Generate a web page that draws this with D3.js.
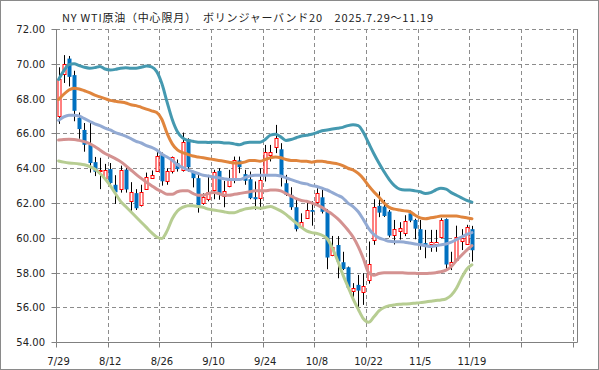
<!DOCTYPE html>
<html><head><meta charset="utf-8">
<script src="https://cdn.jsdelivr.net/npm/d3@7"></script>
<style>html,body{margin:0;padding:0;background:#fff;}svg{display:block;}</style>
</head><body>
<svg id="c" width="599" height="370"></svg>
<script>
const title = "NY WTI原油（中心限月）　ボリンジャーバンド20　2025.7.29～11.19";
const xLabels = ["7/29","8/12","8/26","9/10","9/24","10/8","10/22","11/5","11/19"];
const yTicks = [54,56,58,60,62,64,66,68,70,72];

const open  = [67.0,69.4,70.3,69.35,66.9,66.2,65.35,64.35,63.8,63.45,63.95,63.05,62.78,63.92,62.15,62.57,61.9,62.82,63.45,63.87,
64.8,63.29,63.81,64.29,63.95,65.67,63.81,63.43,61.99,62.22,62.72,63.85,62.43,62.99,63.28,64.45,63.66,63.37,62.34,62.28,
63.66,64.81,65.21,65.09,63.14,62.47,61.76,60.65,61.13,61.6,62.03,62.33,61.51,59.0,59.59,58.6,58.31,56.99,57.3,56.91,
57.58,59.92,61.84,61.8,61.51,60.17,60.4,60.27,61.41,61.03,60.5,59.7,59.63,59.63,60.04,61.08,58.42,58.72,59.8,59.68,60.5];
const high  = [69.8,70.5,70.45,69.6,67.2,66.6,66.6,64.65,64.6,64.25,64.3,63.6,64.15,64.15,63.2,62.8,63.05,63.75,63.87,65.0,
64.9,64.0,64.67,64.5,66.05,65.72,63.85,63.62,62.56,63.62,63.91,64.0,63.27,63.91,64.67,64.67,63.91,63.81,63.24,64.0,
65.34,65.34,66.49,65.44,63.62,62.91,62.2,61.41,62.08,62.1,62.85,62.8,61.65,60.11,60.1,59.2,58.35,57.4,57.87,57.97,
59.79,62.22,62.66,62.18,61.6,61.03,60.9,61.3,61.57,61.1,61.03,60.46,60.46,60.46,61.13,61.12,59.2,60.7,60.5,60.75,60.69];
const low   = [66.55,68.9,68.7,66.7,65.7,64.95,63.75,63.55,62.8,63.4,63.0,61.95,62.6,62.6,61.5,61.6,61.8,62.8,63.4,63.8,
63.0,63.05,63.7,63.81,63.81,63.81,62.9,61.45,61.9,62.1,62.22,62.19,61.76,62.91,63.14,63.72,63.05,62.22,61.61,61.61,
63.24,64.39,64.87,62.95,62.41,61.61,60.37,60.6,61.1,60.7,61.95,61.4,58.2,58.95,57.68,58.15,57.05,56.43,55.95,56.15,
57.37,59.6,61.19,61.2,60.03,59.62,59.9,60.1,60.9,59.92,59.31,58.83,59.2,59.2,59.98,58.22,58.15,58.65,59.3,59.6,58.64];
const close = [69.15,70.0,69.25,67.3,66.25,65.35,64.3,63.8,63.88,63.9,63.15,62.62,63.9,62.78,62.66,61.7,62.62,63.49,63.64,64.73,
63.25,63.85,64.63,63.95,65.53,64.06,63.43,61.85,62.33,62.64,63.76,62.47,62.7,63.33,64.45,64.06,63.28,62.28,62.22,63.33,
64.96,64.96,65.73,63.52,62.47,61.76,60.5,60.93,61.6,61.5,62.56,61.5,58.87,59.46,58.64,58.21,57.14,57.14,56.97,57.24,
58.48,61.8,61.45,61.26,60.13,60.49,60.55,60.97,60.99,60.53,59.67,59.55,59.76,59.76,61.03,58.47,58.6,60.07,60.0,60.65,59.29];

const upper2 = [69.1,69.6,69.95,70.0,69.9,69.8,69.75,69.78,69.85,69.7,69.65,69.68,69.75,69.78,69.75,69.75,69.8,69.87,69.82,69.55,
68.85,67.8,66.8,66.1,65.75,65.6,65.55,65.5,65.5,65.48,65.5,65.5,65.45,65.45,65.4,65.35,65.45,65.5,65.5,65.5,
65.65,65.9,65.95,65.8,65.6,65.65,65.75,65.85,65.9,65.95,66.05,66.15,66.2,66.25,66.3,66.35,66.45,66.5,66.45,66.05,
65.45,64.85,64.3,63.8,63.35,63.0,62.8,62.75,62.75,62.7,62.65,62.55,62.6,62.75,62.85,62.8,62.6,62.45,62.3,62.15,62.05];
const upper1 = [67.95,68.25,68.5,68.6,68.55,68.45,68.35,68.2,68.1,68.0,67.9,67.85,67.8,67.75,67.65,67.6,67.5,67.4,67.3,67.2,
66.8,66.0,65.4,65.05,64.9,64.8,64.7,64.65,64.6,64.55,64.5,64.45,64.4,64.35,64.3,64.3,64.35,64.45,64.45,64.4,
64.5,64.6,64.65,64.6,64.5,64.45,64.45,64.4,64.4,64.35,64.4,64.4,64.35,64.3,64.25,64.15,64.0,63.9,63.7,63.4,
63.0,62.65,62.35,62.0,61.75,61.65,61.6,61.55,61.5,61.3,61.15,61.1,61.15,61.2,61.25,61.25,61.25,61.25,61.2,61.15,61.1];
const middle = [66.75,66.95,67.05,67.05,67.0,66.85,66.7,66.55,66.45,66.3,66.2,66.05,65.95,65.85,65.7,65.55,65.45,65.3,65.2,65.05,
64.8,64.65,64.45,64.2,64.05,63.9,63.8,63.7,63.6,63.55,63.5,63.45,63.4,63.35,63.35,63.35,63.45,63.55,63.6,63.6,
63.6,63.6,63.6,63.55,63.45,63.35,63.25,63.15,63.1,63.0,62.95,62.85,62.75,62.6,62.45,62.3,62.0,61.8,61.5,61.05,
60.55,60.2,60.0,59.9,59.8,59.78,59.78,59.75,59.7,59.65,59.6,59.55,59.5,59.55,59.6,59.65,59.75,59.9,60.05,60.2,60.3];
const lower1 = [65.62,65.65,65.66,65.65,65.6,65.53,65.42,65.25,65.05,64.85,64.7,64.55,64.38,64.15,63.9,63.65,63.42,63.2,63.0,62.8,
62.65,62.5,62.5,62.65,62.7,62.7,62.55,62.45,62.45,62.55,62.6,62.55,62.45,62.45,62.5,62.55,62.6,62.65,62.7,62.7,
62.7,62.75,62.75,62.7,62.55,62.4,62.25,62.15,62.1,62.0,61.9,61.75,61.55,61.35,61.1,60.8,60.45,60.05,59.5,58.8,
58.0,57.85,57.95,58.0,58.0,58.0,58.0,57.98,57.97,57.96,57.95,57.95,57.97,58.0,58.05,58.15,58.35,58.7,59.0,59.3,59.55];
const lower2 = [64.42,64.35,64.3,64.28,64.25,64.2,64.1,63.95,63.7,63.4,63.0,62.55,62.1,61.8,61.5,61.2,60.9,60.6,60.3,60.05,
59.97,60.4,61.1,61.55,61.75,61.85,61.85,61.8,61.75,61.65,61.6,61.55,61.5,61.45,61.45,61.55,61.65,61.7,61.75,61.7,
61.75,61.8,61.7,61.55,61.35,61.1,60.85,60.6,60.4,60.3,60.25,60.15,59.95,59.4,58.7,57.9,57.2,56.5,55.9,55.35,
55.15,55.45,55.8,56.0,56.1,56.15,56.18,56.2,56.22,56.25,56.28,56.32,56.36,56.4,56.43,56.5,56.7,57.1,57.7,58.2,58.45];

const svg = d3.select("#c");
const L = 56, R = 572.67, T = 29, B = 342.3, FR = 577;
const x = d3.scaleLinear().domain([0, 100]).range([L, R]);
const y = d3.scaleLinear().domain([54, 72]).range([B, T]);
const gridC = "#8c8c8c";

// outer frame
svg.append("rect").attr("x",0.5).attr("y",0.5).attr("width",598).attr("height",369)
  .attr("fill","#fff").attr("stroke","#8a8a8a");

// title
svg.append("text").attr("x",62).attr("y",22).text(title)
  .attr("font-family","'Noto Sans CJK JP', sans-serif").attr("font-size",11)
  .attr("textLength",371).attr("lengthAdjust","spacing").attr("fill","#222");

// horizontal gridlines
const g = svg.append("g");
yTicks.forEach(v => {
  if (v === 54) return;
  g.append("line").attr("x1",L).attr("x2",FR).attr("y1",Math.round(y(v))+0.5).attr("y2",Math.round(y(v))+0.5)
   .attr("stroke",gridC).attr("stroke-dasharray","4,3");
});
// vertical gridlines
d3.range(1, 11).forEach(k => {
  g.append("line").attr("x1",Math.round(x(k*10))+0.5).attr("x2",Math.round(x(k*10))+0.5)
   .attr("y1",T).attr("y2",B).attr("stroke",gridC).attr("stroke-dasharray","4,3");
});
// frame lines
const lx = Math.round(L)+0.5, by = Math.round(B)+0.5, rx = Math.round(FR)+0.5;
g.append("line").attr("x1",lx).attr("x2",lx).attr("y1",T).attr("y2",by).attr("stroke","#808080");
g.append("line").attr("x1",lx).attr("x2",rx).attr("y1",by).attr("y2",by).attr("stroke","#808080");
g.append("line").attr("x1",rx).attr("x2",rx).attr("y1",T).attr("y2",by).attr("stroke","#808080");

// y axis ticks & labels
yTicks.forEach(v => {
  const yy = Math.round(y(v))+0.5;
  g.append("line").attr("x1",lx-5).attr("x2",lx).attr("y1",yy).attr("y2",yy).attr("stroke","#808080");
  g.append("text").attr("x",45).attr("y",yy).attr("dy","0.35em").attr("text-anchor","end")
   .attr("font-family","'DejaVu Sans', sans-serif").attr("font-size",10).attr("fill","#222").text(v.toFixed(2));
});
// x ticks & labels
d3.range(0, 11).forEach(k => {
  const xx = Math.round(x(k*10))+0.5;
  g.append("line").attr("x1",xx).attr("x2",xx).attr("y1",by).attr("y2",by+5).attr("stroke","#808080");
});
xLabels.forEach((lab, k) => {
  g.append("text").attr("x", x(k*10+0.5)).attr("y",365).attr("text-anchor","middle")
   .attr("font-family","'DejaVu Sans', sans-serif").attr("font-size",10).attr("fill","#222").text(lab);
});

// candles
const idx = d3.range(open.length);
const cg = svg.append("g");
idx.forEach(i => {
  const cx = Math.round(x(i+0.5));
  cg.append("line").attr("x1",cx+0.5).attr("x2",cx+0.5).attr("y1",y(high[i])).attr("y2",y(low[i]))
    .attr("stroke","#000").attr("stroke-width",1);
});
idx.forEach(i => {
  const cx = Math.round(x(i+0.5));
  const up = close[i] >= open[i];
  const top = y(Math.max(open[i], close[i])), bot = y(Math.min(open[i], close[i]));
  if (up) {
    cg.append("rect").attr("x",cx-1).attr("y",Math.round(top)+0.5).attr("width",3)
      .attr("height",Math.max(1, Math.round(bot-top))).attr("fill","#fff").attr("stroke","#ff0000");
  } else {
    cg.append("rect").attr("x",cx-1.5).attr("y",top).attr("width",4)
      .attr("height",Math.max(1.5, bot-top)).attr("fill","#0070c0");
  }
});

// bands
const bands = [
  {d: upper2, c: "#4599b0"},
  {d: upper1, c: "#e0853d"},
  {d: middle, c: "#93aad3"},
  {d: lower1, c: "#d49291"},
  {d: lower2, c: "#b7cd92"}
];
const line = d3.line().x((d,i) => x(i+0.5)).y(d => y(d)).curve(d3.curveMonotoneX);
bands.forEach(b => {
  svg.append("path").datum(b.d).attr("d", line).attr("fill","none")
    .attr("stroke", b.c).attr("stroke-width", 3).attr("stroke-linejoin","round").attr("stroke-linecap","round");
});
</script>
</body></html>
